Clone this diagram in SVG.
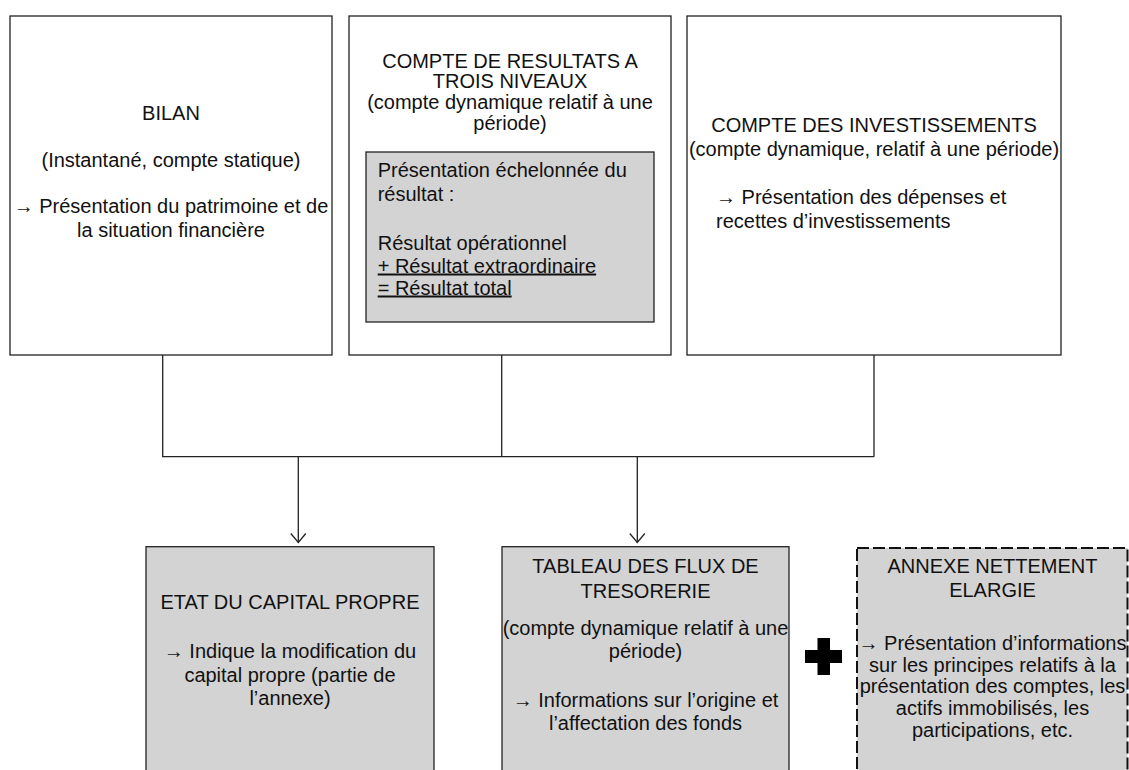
<svg xmlns="http://www.w3.org/2000/svg" width="1129" height="770" viewBox="0 0 1129 770">
<style>
  text { font-family: "Liberation Sans", Arial, sans-serif; font-size: 20px; fill: #111; }
  .c { text-anchor: middle; }
  .box { fill: #ffffff; stroke: #222; stroke-width: 1.3; }
  .gbox { fill: #d3d3d3; stroke: #222; stroke-width: 1.3; }
  .dbox { fill: #d3d3d3; stroke: #111; stroke-width: 2; stroke-dasharray: 12 4; }
  .ln { fill: none; stroke: #222; stroke-width: 1.3; }
  .u { text-decoration: underline; }
</style>
<defs>
  <marker id="vhead" markerWidth="12" markerHeight="18" refX="10" refY="9" orient="auto" markerUnits="userSpaceOnUse" viewBox="0 0 12 18">
    <path d="M1,1.5 L10,9 L1,16.5" fill="none" stroke="#222" stroke-width="1.3"/>
  </marker>
</defs>
<rect width="1129" height="770" fill="#ffffff"/>

<g id="connectors">
  <path class="ln" d="M162.7,355 V456.7 H874 M501.7,355 V456.7 M874,355 V456.7"/>
  <path class="ln" d="M298.3,456.7 V542.5" marker-end="url(#vhead)"/>
  <path class="ln" d="M637.3,456.7 V542.5" marker-end="url(#vhead)"/>
</g>

<g id="bilan">
  <rect class="box" x="10" y="16" width="322" height="339"/>
  <text class="c" x="171" y="120">BILAN</text>
  <text class="c" x="171" y="166.7">(Instantané, compte statique)</text>
  <text class="c" x="171" y="213">→ Présentation du patrimoine et de</text>
  <text class="c" x="171" y="237">la situation financière</text>
</g>

<g id="compte-resultats">
  <rect class="box" x="349" y="16" width="322" height="339"/>
  <text class="c" x="510" y="67.7">COMPTE DE RESULTATS A</text>
  <text class="c" x="510" y="88.3">TROIS NIVEAUX</text>
  <text class="c" x="510" y="109">(compte dynamique relatif à une</text>
  <text class="c" x="510" y="130">période)</text>
  <g id="resultat-echelonne">
    <rect class="gbox" x="366" y="152" width="288" height="170"/>
    <text x="377.7" y="177">Présentation échelonnée du</text>
    <text x="377.7" y="200.5">résultat :</text>
    <text x="377.7" y="250">Résultat opérationnel</text>
    <text class="u" x="377.7" y="272.5">+ Résultat extraordinaire</text>
    <text class="u" x="377.7" y="294.5">= Résultat total</text>
  </g>
</g>

<g id="compte-investissements">
  <rect class="box" x="687" y="16" width="374" height="339"/>
  <text class="c" x="874" y="131.7">COMPTE DES INVESTISSEMENTS</text>
  <text class="c" x="874" y="155.7">(compte dynamique, relatif à une période)</text>
  <text x="716" y="204">→ Présentation des dépenses et</text>
  <text x="716" y="228.3">recettes d’investissements</text>
</g>

<g id="etat-capital">
  <rect class="gbox" x="146" y="546.7" width="288" height="240"/>
  <text class="c" x="290" y="609.3">ETAT DU CAPITAL PROPRE</text>
  <text class="c" x="290" y="657.7">→ Indique la modification du</text>
  <text class="c" x="290" y="681.7">capital propre (partie de</text>
  <text class="c" x="290" y="705">l’annexe)</text>
</g>

<g id="tableau-flux">
  <rect class="gbox" x="502" y="546.7" width="287" height="240"/>
  <text class="c" x="645.5" y="573.3">TABLEAU DES FLUX DE</text>
  <text class="c" x="645.5" y="597.7">TRESORERIE</text>
  <text class="c" x="645.5" y="635">(compte dynamique relatif à une</text>
  <text class="c" x="645.5" y="658">période)</text>
  <text class="c" x="645.5" y="706.7">→ Informations sur l’origine et</text>
  <text class="c" x="645.5" y="730">l’affectation des fonds</text>
</g>

<g id="plus">
  <rect x="817.5" y="638" width="12.5" height="37" fill="#000"/>
  <rect x="805" y="650" width="37" height="13" fill="#000"/>
</g>

<g id="annexe">
  <rect class="dbox" x="857" y="548" width="270.5" height="240"/>
  <text class="c" x="992.5" y="573.3">ANNEXE NETTEMENT</text>
  <text class="c" x="992.5" y="596.7">ELARGIE</text>
  <text class="c" x="992.5" y="650">→ Présentation d’informations</text>
  <text class="c" x="992.5" y="671.7">sur les principes relatifs à la</text>
  <text class="c" x="992.5" y="693.3">présentation des comptes, les</text>
  <text class="c" x="992.5" y="715">actifs immobilisés, les</text>
  <text class="c" x="992.5" y="736.7">participations, etc.</text>
</g>
</svg>
